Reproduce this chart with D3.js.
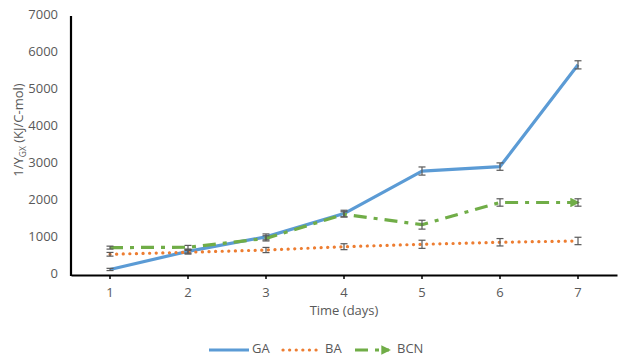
<!DOCTYPE html>
<html>
<head>
<meta charset="utf-8">
<script src="https://cdn.jsdelivr.net/npm/d3@7"></script>
<style>
  body { margin: 0; background: #fff; }
  text { font-family: "Open Sans", "Liberation Sans", sans-serif; }
</style>
</head>
<body>
<div id="chart"></div>
<script>
// 데이터
const days = [1, 2, 3, 4, 5, 6, 7];
const gaValues = [150, 640, 1030, 1660, 2810, 2930, 5680];
const gaErrors = [30, 50, 80, 90, 110, 100, 110];
const baValues = [560, 615, 675, 765, 830, 885, 920];
const baErrors = [50, 50, 70, 80, 110, 100, 100];
const bcnValues = [740, 750, 990, 1640, 1360, 1960, 1960];
const bcnErrors = [40, 50, 70, 70, 120, 100, 100];
const yTicks = [0, 1000, 2000, 3000, 4000, 5000, 6000, 7000];

const series = [
  { name: 'GA', values: gaValues, errors: gaErrors, color: '#5B9BD5', dash: null },
  { name: 'BA', values: baValues, errors: baErrors, color: '#ED7D31', dash: '0.1 6.5' },
  { name: 'BCN', values: bcnValues, errors: bcnErrors, color: '#70AD47', dash: '13 7 4 7', arrow: true }
];

const width = 618, height = 360;
const margin = { top: 16, right: 1, bottom: 85, left: 71 };

const svg = d3.select('#chart').append('svg')
  .attr('width', width)
  .attr('height', height);

// BCN 선 끝 화살표
const defs = svg.append('defs');
defs.append('marker')
  .attr('id', 'arrow-bcn')
  .attr('viewBox', '0 0 10 10')
  .attr('refX', 8).attr('refY', 5)
  .attr('markerWidth', 3).attr('markerHeight', 3)
  .attr('markerUnits', 'strokeWidth')
  .attr('orient', 'auto')
  .append('path')
  .attr('d', 'M0,0 L10,5 L0,10 Z')
  .attr('fill', '#70AD47');

const x = d3.scaleBand()
  .domain(days)
  .range([margin.left, width - margin.right]);

const y = d3.scaleLinear()
  .domain([0, 7000])
  .range([height - margin.bottom, margin.top]);

const cx = d => x(d) + x.bandwidth() / 2;

// y축 라벨
svg.append('g')
  .selectAll('text')
  .data(yTicks)
  .enter()
  .append('text')
  .attr('x', margin.left - 13)
  .attr('y', d => y(d))
  .attr('text-anchor', 'end')
  .attr('dominant-baseline', 'middle')
  .attr('font-size', 13)
  .attr('fill', '#595959')
  .text(d => d);

// x축
const xAxis = svg.append('g')
  .attr('transform', `translate(0,${y(0)})`)
  .call(d3.axisBottom(x).tickSize(4).tickPadding(9).tickSizeOuter(0));
xAxis.select('.domain').attr('stroke', '#000').attr('stroke-width', 2.2);
xAxis.selectAll('.tick line').attr('stroke', '#000').attr('stroke-width', 1.5);
xAxis.selectAll('.tick text')
  .attr('font-size', 13)
  .attr('fill', '#595959')
  .attr('font-family', '"Open Sans", "Liberation Sans", sans-serif');

// y축 선
svg.append('line')
  .attr('x1', margin.left).attr('x2', margin.left)
  .attr('y1', y(7000)).attr('y2', y(0) + 1)
  .attr('stroke', '#000')
  .attr('stroke-width', 2.2);

// 시리즈 선
const line = d3.line()
  .x((d, i) => cx(days[i]))
  .y(d => y(d));

series.forEach(s => {
  svg.append('path')
    .datum(s.values)
    .attr('d', line)
    .attr('fill', 'none')
    .attr('stroke', s.color)
    .attr('stroke-width', 3.2)
    .attr('stroke-linecap', s.name === 'BA' ? 'round' : 'butt')
    .attr('stroke-linejoin', 'round')
    .attr('stroke-dasharray', s.dash)
    .attr('marker-end', s.arrow ? 'url(#arrow-bcn)' : null);
});

// 오차 막대
series.forEach(s => {
  const g = svg.append('g');
  s.values.forEach((v, i) => {
    const px = cx(days[i]);
    const e = s.errors[i];
    g.append('line')
      .attr('x1', px).attr('x2', px)
      .attr('y1', y(v - e)).attr('y2', y(v + e))
      .attr('stroke', '#595959').attr('stroke-width', 1.2);
    [v - e, v + e].forEach(t => {
      g.append('line')
        .attr('x1', px - 3.5).attr('x2', px + 3.5)
        .attr('y1', y(t)).attr('y2', y(t))
        .attr('stroke', '#595959').attr('stroke-width', 1.2);
    });
  });
});

// 축 제목
svg.append('text')
  .attr('x', cx(4))
  .attr('y', 315)
  .attr('text-anchor', 'middle')
  .attr('font-size', 13)
  .attr('fill', '#595959')
  .text('Time (days)');

const yTitle = svg.append('text')
  .attr('transform', 'translate(23,130) rotate(-90)')
  .attr('text-anchor', 'middle')
  .attr('font-size', 13)
  .attr('fill', '#595959');
yTitle.append('tspan').text('1/Y');
yTitle.append('tspan').attr('font-size', 8.5).attr('dy', 3).text('GX');
yTitle.append('tspan').attr('dy', -3).text(' (KJ/C-mol)');

// 범례
const legendItems = [
  { s: series[0], x0: 209, x1: 249, tx: 252 },
  { s: series[1], x0: 283, x1: 318, tx: 325 },
  { s: series[2], x0: 355, x1: 392, tx: 397 }
];
const legendY = 350;
legendItems.forEach(it => {
  svg.append('line')
    .attr('x1', it.x0).attr('x2', it.s.arrow ? it.x1 - 3 : it.x1)
    .attr('y1', legendY).attr('y2', legendY)
    .attr('stroke', it.s.color)
    .attr('stroke-width', 3.2)
    .attr('stroke-linecap', it.s.name === 'BA' ? 'round' : 'butt')
    .attr('stroke-dasharray', it.s.dash)
    .attr('marker-end', it.s.arrow ? 'url(#arrow-bcn)' : null);
  svg.append('text')
    .attr('x', it.tx)
    .attr('y', legendY)
    .attr('dominant-baseline', 'middle')
    .attr('font-size', 13)
    .attr('fill', '#595959')
    .text(it.s.name);
});
</script>
</body>
</html>
